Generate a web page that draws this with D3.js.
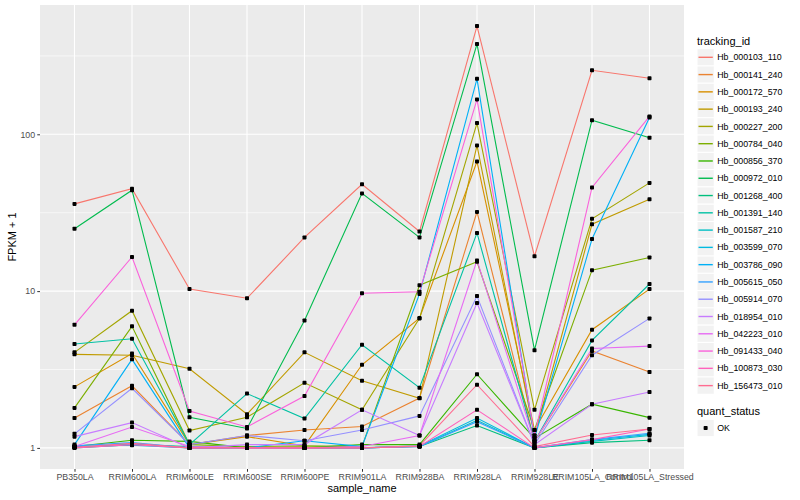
<!DOCTYPE html>
<html><head><meta charset="utf-8">
<script src="https://cdn.jsdelivr.net/npm/d3@7"></script>
<style>body{margin:0;background:#fff}</style></head>
<body>
<svg id="c" width="800" height="500"></svg>
<script>
const categories = ["PB350LA","RRIM600LA","RRIM600LE","RRIM600SE","RRIM600PE","RRIM901LA","RRIM928BA","RRIM928LA","RRIM928LE","RRIM105LA_Control","RRIM105LA_Stressed"];
const trackingIds = ["Hb_000103_110","Hb_000141_240","Hb_000172_570","Hb_000193_240","Hb_000227_200","Hb_000784_040","Hb_000856_370","Hb_000972_010","Hb_001268_400","Hb_001391_140","Hb_001587_210","Hb_003599_070","Hb_003786_090","Hb_005615_050","Hb_005914_070","Hb_018954_010","Hb_042223_010","Hb_091433_040","Hb_100873_030","Hb_156473_010"];
const seriesColors = ["#F8766D","#EA8331","#D89000","#C09B00","#A3A500","#7CAE00","#39B600","#00BB4E","#00BF7D","#00C1A3","#00BFC4","#00BAE0","#00B0F6","#35A2FF","#9590FF","#C77CFF","#E76BF3","#FA62DB","#FF62BC","#FF6C91"];
// FPKM + 1 per tracking id, in category order
const seriesValues = [
  [36, 45, 10.3, 9.0, 22, 48, 24, 490, 16.7, 256, 228],
  [1.55, 2.49, 1.05, 1.2, 1.30, 1.37, 2.08, 32, 1.1, 4.15, 3.05],
  [2.45, 4.0, 1.05, 1.18, 1.03, 3.39, 6.73, 67, 1.3, 5.67, 10.3],
  [3.95, 3.9, 3.2, 1.64, 4.07, 2.68, 2.07, 85, 1.2, 26.7, 38.5],
  [4.07, 7.5, 1.29, 1.57, 2.6, 1.75, 6.7, 118, 1.75, 28.9, 49],
  [1.8, 5.96, 1.05, 1.02, 1.03, 1.02, 10.9, 15.4, 1.3, 13.6, 16.4],
  [1.02, 1.12, 1.1, 1.0, 1.0, 1.05, 1.05, 2.95, 1.15, 1.9, 1.56],
  [25, 44, 1.57, 1.33, 6.5, 42, 22, 376, 4.2, 123, 95],
  [1.0, 1.05, 1.02, 1.0, 1.0, 1.0, 1.02, 1.39, 1.0, 1.08, 1.12],
  [4.6, 4.97, 1.05, 2.22, 1.54, 4.55, 2.42, 23.5, 1.1, 4.85, 11.1],
  [1.01, 1.06, 1.0, 1.0, 1.0, 1.0, 1.02, 1.5, 1.0, 1.1, 1.2],
  [1.02, 1.04, 1.0, 1.0, 1.0, 1.0, 1.03, 1.55, 1.0, 1.12, 1.22],
  [1.05, 3.67, 1.0, 1.0, 1.11, 1.02, 9.6, 226, 1.15, 21.5, 128],
  [1.03, 1.08, 1.0, 1.0, 1.0, 1.0, 1.02, 1.47, 1.0, 1.13, 1.24],
  [1.23, 2.4, 1.05, 1.2, 1.11, 1.3, 1.6, 9.3, 1.05, 3.9, 6.7],
  [1.18, 1.45, 1.0, 1.05, 1.05, 1.75, 1.2, 8.4, 1.05, 1.9, 2.27],
  [1.02, 1.36, 1.02, 1.0, 1.0, 1.02, 1.2, 15.7, 1.1, 4.31, 4.46],
  [6.1, 16.5, 1.72, 1.36, 2.14, 9.7, 9.9, 167, 1.2, 45.8, 130],
  [1.0, 1.05, 1.0, 1.0, 1.0, 1.0, 1.02, 1.75, 1.0, 1.13, 1.32],
  [1.01, 1.07, 1.0, 1.0, 1.0, 1.0, 1.03, 2.53, 1.02, 1.21, 1.32]
];
const yTicks = [1, 10, 100];
const yMinor = [Math.pow(10,0.5), Math.pow(10,1.5), Math.pow(10,2.5)];
const statusLevels = ["OK"];

const font = "'Liberation Sans', Arial, Helvetica, sans-serif";
const svg = d3.select("#c").style("font-family", font);
const P = {left: 40, right: 684, top: 5, bottom: 469};

const x = d3.scalePoint().domain(categories).range([P.left, P.right]).padding(0.6);
const all = seriesValues.flat();
const lmin = Math.log10(d3.min(all)), lmax = Math.log10(d3.max(all));
const ex = (lmax - lmin) * 0.05;
const y = d3.scaleLog().domain([Math.pow(10, lmin - ex), Math.pow(10, lmax + ex)]).range([P.bottom, P.top]);

svg.append("rect").attr("width", 800).attr("height", 500).attr("fill", "#fff");
svg.append("rect").attr("x", P.left).attr("y", P.top).attr("width", P.right - P.left).attr("height", P.bottom - P.top).attr("fill", "#EBEBEB");

const g = svg.append("g");
g.selectAll(".ymin").data(yMinor).join("line")
  .attr("x1", P.left).attr("x2", P.right).attr("y1", d => y(d)).attr("y2", d => y(d))
  .attr("stroke", "#fff").attr("stroke-width", 0.6);
g.selectAll(".ymaj").data(yTicks).join("line")
  .attr("x1", P.left).attr("x2", P.right).attr("y1", d => y(d)).attr("y2", d => y(d))
  .attr("stroke", "#fff").attr("stroke-width", 1.1);
g.selectAll(".xmaj").data(categories).join("line")
  .attr("y1", P.top).attr("y2", P.bottom).attr("x1", d => x(d)).attr("x2", d => x(d))
  .attr("stroke", "#fff").attr("stroke-width", 1.1);

const line = d3.line().x((d, i) => x(categories[i])).y(d => y(d));
svg.append("g").selectAll("path").data(seriesValues).join("path")
  .attr("d", line).attr("fill", "none")
  .attr("stroke", (d, i) => seriesColors[i]).attr("stroke-width", 1.1);

const pts = [];
seriesValues.forEach(s => s.forEach((v, i) => pts.push({c: categories[i], v})));
svg.append("g").selectAll("rect").data(pts).join("rect")
  .attr("x", d => x(d.c) - 2).attr("y", d => y(d.v) - 2)
  .attr("width", 4).attr("height", 4).attr("rx", 0.8).attr("fill", "#000");

// axes
const ax = svg.append("g").attr("transform", `translate(${P.left},0)`)
  .call(d3.axisLeft(y).tickValues(yTicks).tickFormat(d3.format("d")).tickSize(2.75).tickPadding(2.2));
const bx = svg.append("g").attr("transform", `translate(0,${P.bottom})`)
  .call(d3.axisBottom(x).tickSize(2.75).tickPadding(2.2));
[ax, bx].forEach(a => {
  a.select(".domain").remove();
  a.selectAll(".tick line").attr("stroke", "#333").attr("stroke-width", 1);
  a.selectAll(".tick text").attr("fill", "#4D4D4D").style("font-size", "8.8px").style("font-family", font);
});

svg.append("text").attr("x", (P.left + P.right) / 2).attr("y", 492)
  .attr("text-anchor", "middle").style("font-size", "11px").text("sample_name");
svg.append("text").attr("transform", `translate(16,${(P.top + P.bottom) / 2}) rotate(-90)`)
  .attr("text-anchor", "middle").style("font-size", "11px").text("FPKM + 1");

// legend: tracking_id
const L = {x: 697, y0: 57.3, step: 17.28, k: 17.28};
svg.append("text").attr("x", L.x).attr("y", 44.5).style("font-size", "11px").text("tracking_id");
const lg = svg.append("g").selectAll("g").data(trackingIds).join("g")
  .attr("transform", (d, i) => `translate(${L.x},${L.y0 + i * L.step})`);
lg.append("rect").attr("x", 0).attr("y", -L.k / 2).attr("width", L.k).attr("height", L.k)
  .attr("fill", "#F2F2F2").attr("stroke", "#fff").attr("stroke-width", 1);
lg.append("line").attr("x1", 1.5).attr("x2", L.k - 1.5).attr("y1", 0).attr("y2", 0)
  .attr("stroke", (d, i) => seriesColors[i]).attr("stroke-width", 1.4);
lg.append("text").attr("x", L.k + 3).attr("y", 3.1).style("font-size", "8.8px").text(d => d);

// legend: quant_status
svg.append("text").attr("x", L.x).attr("y", 415).style("font-size", "11px").text("quant_status");
const sg = svg.append("g").selectAll("g").data(statusLevels).join("g")
  .attr("transform", (d, i) => `translate(${L.x},${428 + i * L.step})`);
sg.append("rect").attr("x", 0).attr("y", -L.k / 2).attr("width", L.k).attr("height", L.k)
  .attr("fill", "#F2F2F2").attr("stroke", "#fff").attr("stroke-width", 1);
sg.append("rect").attr("x", L.k / 2 - 2).attr("y", -2).attr("width", 4).attr("height", 4).attr("rx", 0.8).attr("fill", "#000");
sg.append("text").attr("x", L.k + 3).attr("y", 3.1).style("font-size", "8.8px").text(d => d);
</script>
</body></html>
